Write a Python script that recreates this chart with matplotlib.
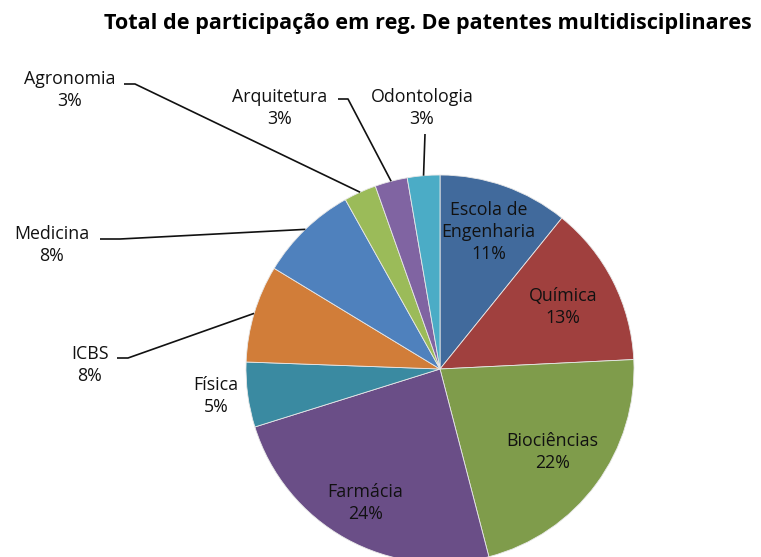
import numpy as np
import matplotlib
matplotlib.use("Agg")
import matplotlib.pyplot as plt

categories = ["Escola de\nEngenharia", "Química", "Biociências", "Farmácia", "Física",
              "ICBS", "Medicina", "Agronomia", "Arquitetura", "Odontologia"]
shares = [10.8, 13.4, 21.7, 24.2, 5.4, 8.1, 8.2, 2.7, 2.7, 2.7]
colors = ["#416A9C", "#A0403E", "#7F9C4B", "#6A4E87", "#3A8AA1",
          "#D17D39", "#4F81BD", "#9BBB59", "#8064A2", "#4BACC6"]
title = "Total de participação em reg. De patentes multidisciplinares"

W, H = 761, 557
fig = plt.figure(figsize=(W / 100, H / 100), dpi=100)
ax = fig.add_axes([0, 0, 1, 1])

cx, cy, R = 440, H - 369, 194
font = "Open Sans"
fs = 12.8
tcol = "#111111"

wedges, _ = ax.pie(shares, colors=colors, startangle=90, counterclock=False,
                   center=(cx, cy), radius=R, frame=True,
                   wedgeprops=dict(edgecolor="#e8e8e8", linewidth=0.6))
ax.set_xlim(0, W)
ax.set_ylim(0, H)
ax.axis("off")

total = sum(shares)
pct = [round(v / total * 100) for v in shares]

# label layout: ("in", dist) or ("out", text center px from top-left, elbow points)
layout = {
    0: ("in", 0.75), 1: ("in", 0.71), 2: ("in", 0.72), 3: ("in", 0.79),
    4: ("free", (216, 396)),
    5: ("out", (90, 365), [(117, 358), (128, 358)]),
    6: ("out", (52, 245), [(100, 239), (120, 239)]),
    7: ("out", (70, 90), [(124, 84), (135, 84)]),
    8: ("out", (280, 108), [(338, 99), (348, 99)]),
    9: ("out", (422, 108), [(425, 134)]),
}

for i, w in enumerate(wedges):
    mid = np.deg2rad((w.theta1 + w.theta2) / 2)
    label = f"{categories[i]}\n{pct[i]}%"
    kind = layout[i][0]
    if kind == "in":
        d = layout[i][1] * R
        x, y = cx + d * np.cos(mid), cy + d * np.sin(mid)
    else:
        px, py = layout[i][1]
        x, y = px, H - py
    ax.text(x, y, label, ha="center", va="center", fontsize=fs, family=font,
            color=tcol, linespacing=1.3)
    if kind == "out":
        pts = [(px_, H - py_) for px_, py_ in layout[i][2]]
        ex, ey = cx + R * np.cos(mid), cy + R * np.sin(mid)
        xs = [p[0] for p in pts] + [ex]
        ys = [p[1] for p in pts] + [ey]
        ax.plot(xs, ys, color="#111111", lw=1.2, solid_capstyle="butt")

ax.text(428, H - 24, title, ha="center", va="center", fontsize=15.6,
        family=font, fontweight="bold", color="#000000")

fig.savefig("out.png", dpi=100)
